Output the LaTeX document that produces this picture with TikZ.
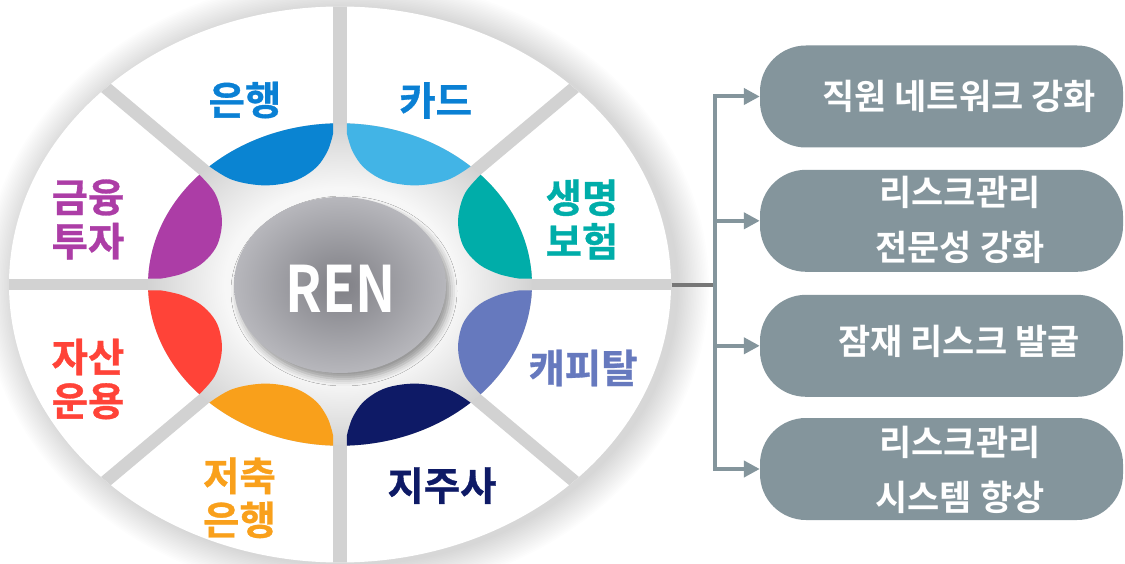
\documentclass[tikz,border=0pt]{standalone}
\usepackage{fontspec}
\newfontfamily\krb{Noto Sans CJK KR Bold}[FakeBold=0.8]
\newfontfamily\krbox{Noto Sans CJK KR Bold}
\newfontfamily\renfont{Noto Sans CJK KR Bold}[FakeStretch=0.84]
\usetikzlibrary{arrows.meta,shadows.blur}
\definecolor{gapgray}{HTML}{D2D2D2}
\definecolor{bggray}{HTML}{D3D3D3}
\definecolor{bgwhite}{HTML}{F7F7F7}
\definecolor{rendark}{HTML}{7F7F85}
\definecolor{renlight}{HTML}{B7B7BC}
\definecolor{cBank}{HTML}{0A84D2}
\definecolor{cCard}{HTML}{42B4E6}
\definecolor{cLife}{HTML}{00ADA9}
\definecolor{cCap}{HTML}{6679BE}
\definecolor{cHold}{HTML}{0E1A66}
\definecolor{cSav}{HTML}{F9A01B}
\definecolor{cAsset}{HTML}{FF4338}
\definecolor{cInv}{HTML}{AC3DA6}
\definecolor{tBlue}{HTML}{0A80D4}
\definecolor{boxc}{HTML}{84959C}
\definecolor{stubc}{HTML}{777777}
\pgfdeclareradialshading{innerbg}{\pgfpoint{0bp}{0bp}}{color(0bp)=(bgwhite); color(15bp)=(bgwhite); color(25bp)=(bggray); color(50bp)=(bggray)}
\pgfdeclareradialshading{rendisc}{\pgfpoint{0bp}{0bp}}{color(0bp)=(rendark); color(25bp)=(renlight); color(50bp)=(renlight)}
\def\petalpath{(0.5796,0.021) -- plot[domain=2.07:42.9,samples=25] ({0.58*cos(\x)},{0.58*sin(\x)}) -- plot[smooth,tension=0.6] coordinates {(0.4250,0.3947) (0.3776,0.328) (0.3574,0.2439) (0.3625,0.172) (0.3828,0.118) (0.423,0.0701) (0.4734,0.0403) (0.515,0.027) (0.543,0.021)} -- cycle}
\tikzset{
  lbl/.style={font=\krb\fontsize{39.5}{44}\selectfont, align=center, inner sep=0pt},
  rbox/.style={fill=boxc, rounded corners=46pt, minimum width=363pt, minimum height=102pt, inner sep=0pt},
  btxt/.style={font=\krbox\fontsize{35}{55}\selectfont, align=center, inner sep=0pt, text=white},
  conn/.style={boxc, line width=4pt, -{Triangle[length=16pt,width=16pt]}},
  shadowring/.style={fill=black, opacity=0.009},
}
\begin{document}
\begin{tikzpicture}[x=1pt,y=1pt]
\useasboundingbox (0,0) rectangle (1125,563);
\fill[white] (0,0) rectangle (1125,563);
% soft shadow of the wheel
\foreach \i in {1,...,20} \fill[shadowring] (346,276.5) ellipse [x radius=331+1.6*\i, y radius=278+1.6*\i];
\fill[white] (340,278.5) ellipse [x radius=331, y radius=278];
\begin{scope}[shift={(340,278.5)}, xscale=331, yscale=278]
  \begin{scope}
    \clip (0,0) circle (1);
    \foreach \a in {0,45,90,135} \fill[gapgray, rotate=\a] (-1.05,-0.021) rectangle (1.05,0.021);
  \end{scope}
  \shade[shading=innerbg] (0,0) circle (0.58);
  \foreach \k/\c in {0/cLife,2/cBank,4/cAsset,6/cHold} {\fill[\c, rotate=45*\k] \petalpath;}
  \foreach \k/\c in {1/cCard,3/cInv,5/cSav,7/cCap} {\fill[\c, rotate=45*\k+45, yscale=-1] \petalpath;}
\end{scope}
% center disc
\path[blur shadow={shadow xshift=4pt, shadow yshift=-6pt, shadow blur radius=7pt, shadow opacity=40}, shade, shading=rendisc] (340,278) ellipse [x radius=106, y radius=88];
\node[font=\renfont\fontsize{64}{64}\selectfont, text=white, inner sep=0pt] (ren) at (340.5,274.7) {REN};
% labels
\node[lbl, text=tBlue] (l1) at (245,463) {은행};
\node[lbl, text=tBlue] (l2) at (435.6,462.5) {카드};
\node[lbl, text=cLife] (l3) at (582,343.5) {생명\\보험};
\node[lbl, text=cCap] (l4) at (583,195) {캐피탈};
\node[lbl, text=cHold] (l5) at (442,77.4) {지주사};
\node[lbl, text=cSav] (l6) at (239.5,65.2) {저축\\은행};
\node[lbl, text=cAsset] (l7) at (88,184) {자산\\운용};
\node[lbl, text=cInv] (l8) at (88,343.5) {금융\\투자};
% boxes
\node[rbox] (b1) at (941.5,466.5) {};
\node[rbox] (b2) at (941.5,342.2) {};
\node[rbox] (b3) at (941.5,217.2) {};
\node[rbox] (b4) at (941.5,94) {};
\node[btxt] (t1) at (959,466.3) {직원 네트워크 강화};
\node[btxt] (t2) at (960,343.2) {리스크관리\\전문성 강화};
\node[btxt] (t3) at (959,221.3) {잠재 리스크 발굴};
\node[btxt] (t4) at (960,93) {리스크관리\\시스템 향상};
% connectors
\coordinate (wheelE) at (671.5,278);
\coordinate (spine) at (715.3,278);
\draw[stubc, line width=4.5pt] (wheelE) -- (spine);
\draw[boxc, line width=4pt, line cap=rect] (spine |- b1.west) -- (spine |- b4.west);
\foreach \b in {b1,b2,b3,b4} \draw[conn] (spine |- \b.west) -- (\b.west);
\end{tikzpicture}
\end{document}
